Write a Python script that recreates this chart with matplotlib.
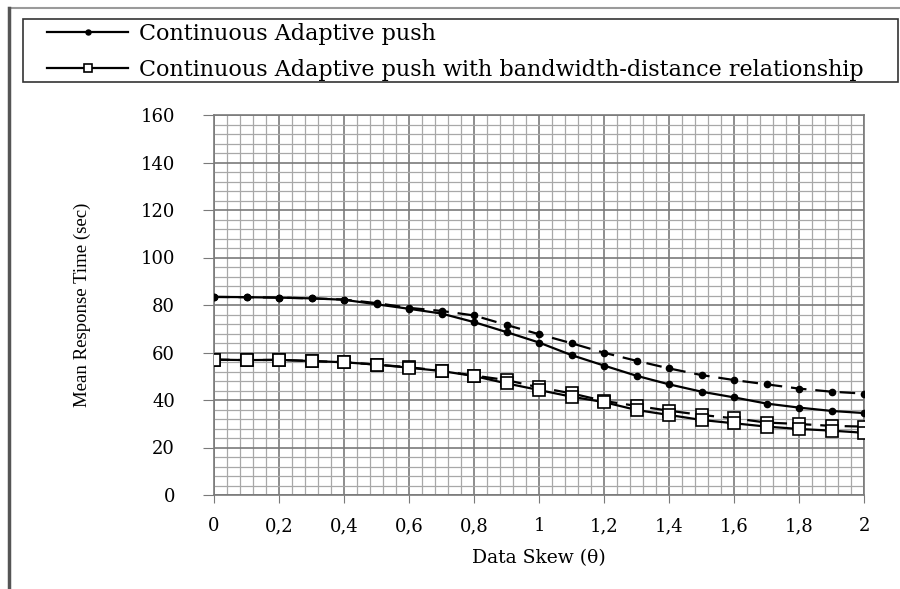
import matplotlib
matplotlib.use("Agg")
import matplotlib.pyplot as plt
from matplotlib.lines import Line2D
from matplotlib.patches import Rectangle
from matplotlib.ticker import MultipleLocator, FuncFormatter

# Data
skew = [0.0, 0.1, 0.2, 0.3, 0.4, 0.5, 0.6, 0.7, 0.8, 0.9, 1.0,
        1.1, 1.2, 1.3, 1.4, 1.5, 1.6, 1.7, 1.8, 1.9, 2.0]
adaptive = [83.4, 83.3, 83.1, 82.8, 82.2, 80.3, 78.4, 76.4, 72.8, 68.6, 64.2,
            58.9, 54.5, 50.2, 46.6, 43.5, 41.1, 38.5, 36.8, 35.4, 34.5]
adaptive_dash = [83.4, 83.3, 83.1, 82.8, 82.3, 80.8, 78.8, 77.5, 75.6, 71.6, 67.7,
                 63.9, 59.9, 56.5, 53.3, 50.5, 48.4, 46.6, 44.8, 43.5, 42.7]
bw_dist = [57.0, 56.8, 56.9, 56.4, 55.9, 54.9, 53.6, 52.2, 50.1, 47.0, 44.2,
           41.4, 39.1, 35.8, 33.7, 31.6, 30.2, 28.8, 27.8, 27.1, 26.2]
bw_dist_dash = [57.0, 56.8, 56.9, 56.4, 55.9, 54.9, 53.8, 52.3, 50.3, 48.4, 45.3,
                42.8, 39.6, 37.5, 35.5, 33.7, 32.3, 30.5, 29.9, 29.1, 28.8]
labels = ["Continuous Adaptive push",
          "Continuous Adaptive push with bandwidth-distance relationship"]

W, H = 900, 589
fig = plt.figure(figsize=(9, 5.89), dpi=100)
ax = fig.add_axes([214 / W, 1 - 495 / H, 650 / W, 380 / H])

# grid
ax.xaxis.set_major_locator(MultipleLocator(0.2))
ax.xaxis.set_minor_locator(MultipleLocator(0.04))
ax.yaxis.set_major_locator(MultipleLocator(20))
ax.yaxis.set_minor_locator(MultipleLocator(4))
ax.grid(which="minor", color="#a8a8a8", lw=0.9, zorder=0)
ax.grid(which="major", color="#7a7a7a", lw=1.2, zorder=0)
ax.set_axisbelow(True)

dash = (0, (7, 4))
ax.plot(skew, adaptive_dash, color="black", lw=1.6, ls=dash,
        marker="o", ms=4.5, zorder=3)
l1, = ax.plot(skew, adaptive, color="black", lw=1.6,
              marker="o", ms=4.5, zorder=3)
ax.plot(skew, bw_dist_dash, color="black", lw=1.6, ls=dash,
        marker="s", ms=8, mfc="white", mec="black", mew=1.2, zorder=4)
l2, = ax.plot(skew, bw_dist, color="black", lw=1.6,
              marker="s", ms=8, mfc="white", mec="black", mew=1.2, zorder=4)

ax.set_xlim(0, 2)
ax.set_ylim(0, 160)
for s in ax.spines.values():
    s.set_color("#7a7a7a")
    s.set_linewidth(1.2)

ax.xaxis.set_major_formatter(FuncFormatter(lambda v, p: f"{v:g}".replace(".", ",")))
ax.tick_params(which="minor", length=0)
ax.tick_params(axis="x", which="major", length=6, color="#7a7a7a", pad=10)
ax.tick_params(axis="y", which="major", length=8, color="#7a7a7a", pad=20)
for t in ax.get_xticklabels() + ax.get_yticklabels():
    t.set_fontfamily("DejaVu Serif")
    t.set_fontsize(13)

ax.set_xlabel("Data Skew (\u03b8)", family="DejaVu Serif", fontsize=13.5, labelpad=10)
ax.set_ylabel("Mean Response Time (sec)", family="Liberation Serif",
              fontsize=13.5, labelpad=36)

# outer frame
fig.add_artist(Line2D([9 / W, 1], [1 - 8 / H, 1 - 8 / H], transform=fig.transFigure,
                      color="#9a9a9a", lw=1.5))
fig.add_artist(Line2D([9 / W, 9 / W], [0, 1 - 8 / H], transform=fig.transFigure,
                      color="#555555", lw=2.5))

# legend box
fig.add_artist(Rectangle((23 / W, 1 - 82 / H), (898 - 23) / W, 63 / H,
                         transform=fig.transFigure, fill=False,
                         ec="#333333", lw=1.2))
fig.legend([l1, l2], labels, loc="upper left",
           bbox_to_anchor=(47 / W, 1 - 23 / H), frameon=False,
           prop=dict(family="DejaVu Serif", size=16),
           handlelength=3.65, handletextpad=0.5, labelspacing=0.62,
           borderpad=0, borderaxespad=0, markerscale=0.8)

fig.savefig("out.png", dpi=100)
